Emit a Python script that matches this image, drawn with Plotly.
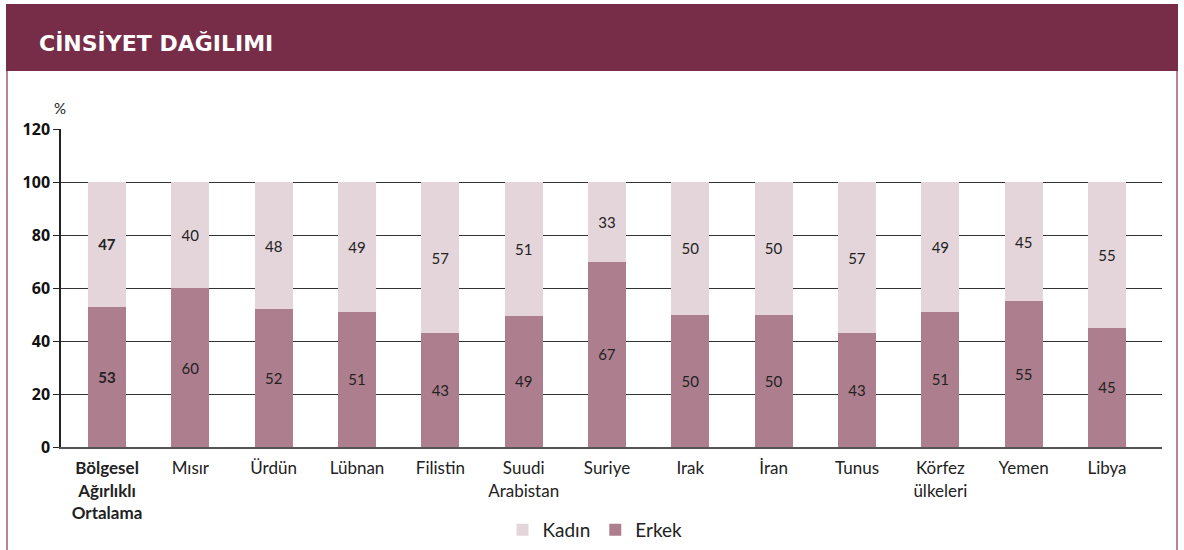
import plotly.graph_objects as go

categories = ["<b>Bölgesel<br>Ağırlıklı<br>Ortalama</b>", "Mısır", "Ürdün", "Lübnan", "Filistin",
              "Suudi<br>Arabistan", "Suriye", "Irak", "İran", "Tunus", "Körfez<br>ülkeleri",
              "Yemen", "Libya"]
erkek_values = [53, 60, 52, 51, 43, 49.5, 70, 50, 50, 43, 51, 55, 45]
kadin_values = [47, 40, 48, 49, 57, 50.5, 30, 50, 50, 57, 49, 45, 55]
erkek_labels = ["<b>53</b>", "60", "52", "51", "43", "49", "67", "50", "50", "43", "51", "55", "45"]
kadin_labels = ["<b>47</b>", "40", "48", "49", "57", "51", "33", "50", "50", "57", "49", "45", "55"]
y_ticks = [0, 20, 40, 60, 80, 100, 120]

DARK = "#AD7F8E"
LIGHT = "#E4D5DB"
HEADER = "#772C48"
FONT = "Lato, 'Open Sans', sans-serif"

# plot area in pixels
L, R, T, B = 61, 1162, 129, 447
W, H = 1184, 550


def px(x):
    return (x - L) / (R - L)


def py(y):
    return (B - y) / (B - T)


fig = go.Figure()
fig.add_trace(go.Bar(
    x=list(range(len(categories))), y=erkek_values, name="Erkek",
    marker=dict(color=DARK, line=dict(width=0)), width=0.456,
    text=erkek_labels, textposition="inside", insidetextanchor="middle",
    textfont=dict(color="#222222", size=15, family=FONT),
))
fig.add_trace(go.Bar(
    x=list(range(len(categories))), y=kadin_values, name="Kadın",
    marker=dict(color=LIGHT, line=dict(width=0)), width=0.456,
    text=kadin_labels, textposition="inside", insidetextanchor="middle",
    textfont=dict(color="#222222", size=15, family=FONT),
))

shapes = [
    # header band
    dict(type="rect", xref="paper", yref="paper", x0=px(6), x1=px(1178), y0=py(71), y1=py(4),
         fillcolor=HEADER, line=dict(width=0), layer="above"),
    # side borders
    dict(type="line", xref="paper", yref="paper", x0=px(7), x1=px(7), y0=py(71), y1=py(552),
         line=dict(color="#9C5E74", width=1.5)),
    dict(type="line", xref="paper", yref="paper", x0=px(1177), x1=px(1177), y0=py(71), y1=py(552),
         line=dict(color="#9C5E74", width=1.5)),
]

annotations = [
    dict(text="<b>CİNSİYET DAĞILIMI</b>", xref="paper", yref="paper", x=px(37), y=py(44),
         xanchor="left", yanchor="middle", showarrow=False,
         font=dict(color="white", size=22, family="'DejaVu Sans', sans-serif")),
    dict(text="%", xref="paper", yref="paper", x=px(60), y=py(108),
         xanchor="center", yanchor="middle", showarrow=False,
         font=dict(color="#222222", size=15, family=FONT)),
]

fig.update_layout(
    width=W, height=H,
    margin=dict(l=L, r=W - R, t=T, b=H - B, pad=0, autoexpand=False),
    barmode="stack",
    plot_bgcolor="white", paper_bgcolor="white",
    shapes=shapes, annotations=annotations,
    showlegend=True,
    legend=dict(orientation="h", x=0.485, xanchor="center", y=py(530), yanchor="middle",
                traceorder="reversed", font=dict(size=19, family=FONT, color="#222222"),
                itemsizing="constant", itemwidth=30, tracegroupgap=0),
)
fig.update_xaxes(
    range=[-0.552, 12.66], tickmode="array", tickvals=list(range(len(categories))),
    ticktext=categories, showgrid=False, showline=True, linecolor="#555555", linewidth=2,
    ticks="", ticklabelstandoff=5, tickfont=dict(size=17, family=FONT, color="#222222"),
    zeroline=False,
)
fig.update_yaxes(
    range=[0, 120], tickvals=y_ticks, showgrid=True, gridcolor="#333333", gridwidth=1,
    showline=True, linecolor="#222222", linewidth=1.5, ticks="outside", ticklen=6,
    tickcolor="#222222", tickfont=dict(size=16, family="'Open Sans', sans-serif", color="#111111",
                                       weight="bold"),
    zeroline=False,
)

fig.write_html("out.html", config={"displayModeBar": False},
               post_script="document.body.style.margin='0';")
